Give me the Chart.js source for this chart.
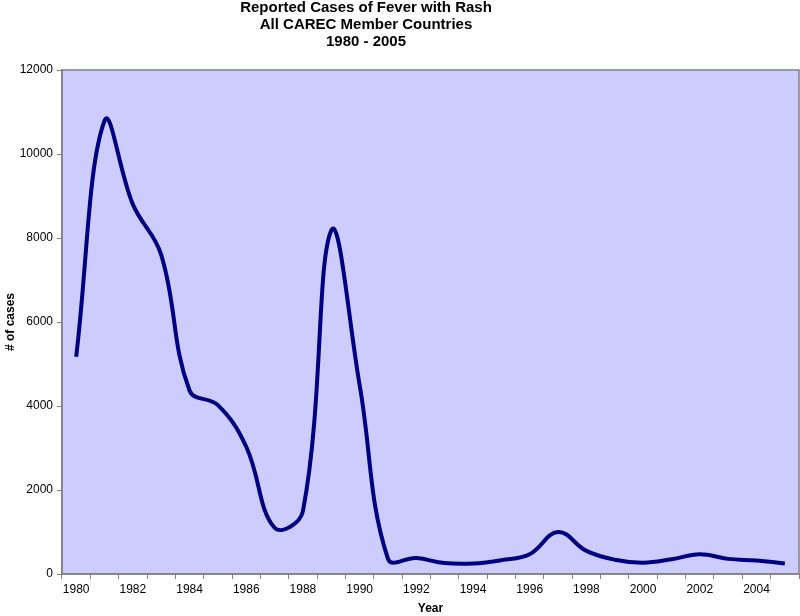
<!DOCTYPE html>
<html>
<head>
<meta charset="utf-8">
<script src="https://cdn.jsdelivr.net/npm/chart.js@4/dist/chart.umd.min.js"></script>
<style>
  html, body { margin: 0; padding: 0; background: #fff; }
  #wrap { width: 800px; height: 616px; }
</style>
</head>
<body>
<div id="wrap"><canvas id="chart"></canvas></div>
<script>
// data
const years = ['1980', '1981', '1982', '1983', '1984', '1985', '1986', '1987', '1988',
    '1989', '1990', '1991', '1992', '1993', '1994', '1995', '1996', '1997', '1998',
    '1999', '2000', '2001', '2002', '2003', '2004', '2005'];
const cases = [5170, 10790, 8800, 7600, 4370, 4020, 3030, 1100, 1500,
    8180, 4500, 360, 380, 260, 250, 330, 470, 1000, 550,
    340, 270, 350, 470, 360, 320, 250];
const yTicks = [0, 2000, 4000, 6000, 8000, 10000, 12000];
const titleLines = ['Reported Cases of Fever with Rash', 'All CAREC Member Countries', '1980 - 2005'];

document.addEventListener('DOMContentLoaded', () => {
    const ctx = document.getElementById('chart').getContext('2d');
    const font = "Arial, 'Liberation Sans', sans-serif";

    // lavender plot area with grey frame
    const plotArea = {
        id: 'plotArea',
        beforeDraw(chart) {
            const a = chart.chartArea;
            const c = chart.ctx;
            c.save();
            c.fillStyle = '#ccccff';
            c.fillRect(a.left, a.top, a.right - a.left, a.bottom - a.top);
            c.restore();
        },
        afterDatasetsDraw(chart) {
            const a = chart.chartArea;
            const c = chart.ctx;
            c.save();
            c.strokeStyle = '#808080';
            c.lineWidth = 1.5;
            c.strokeRect(a.left, a.top, a.right - a.left, a.bottom - a.top);
            c.restore();
        }
    };

    // the title sits a bit left of the page centre, as in the original
    const titleBlock = {
        id: 'titleBlock',
        afterDraw(chart) {
            const c = chart.ctx;
            const cx = chart.width * 0.4575;
            c.save();
            c.fillStyle = '#000';
            c.font = 'bold 15px ' + font;
            c.textAlign = 'center';
            c.textBaseline = 'middle';
            titleLines.forEach((t, i) => c.fillText(t, cx, 8 + i * 17));
            c.restore();
        }
    };

    new Chart(ctx, {
        type: 'line',
        data: {
            labels: years,
            datasets: [{
                label: 'Cases',
                data: cases,
                borderColor: '#000080',
                borderWidth: 4,
                pointRadius: 0,
                tension: 0.4,
                fill: false
            }]
        },
        options: {
            responsive: true,
            maintainAspectRatio: false,
            animation: false,
            layout: { padding: { top: 70, right: 1, left: 0, bottom: 0 } },
            plugins: {
                legend: { display: false },
                tooltip: { enabled: false },
                title: { display: false }
            },
            scales: {
                x: {
                    type: 'category',
                    offset: true,
                    afterFit: s => { s.height = 42; },
                    grid: {
                        offset: true,
                        drawOnChartArea: false,
                        drawTicks: true,
                        tickLength: 5,
                        color: '#808080'
                    },
                    border: { color: '#808080', width: 1.5 },
                    ticks: {
                        autoSkip: false,
                        maxRotation: 0,
                        padding: 3,
                        color: '#000',
                        font: { family: font, size: 12 },
                        callback: function (v, i) { return i % 2 === 0 ? this.getLabelForValue(v) : ''; }
                    },
                    title: {
                        display: true,
                        text: 'Year',
                        color: '#000',
                        font: { family: font, size: 12, weight: 'bold' },
                        padding: { top: 5, bottom: 0 }
                    }
                },
                y: {
                    min: yTicks[0],
                    max: yTicks[yTicks.length - 1],
                    afterFit: s => { s.width = 62; },
                    afterBuildTicks: s => { s.ticks = yTicks.map(v => ({ value: v })); },
                    grid: {
                        drawOnChartArea: false,
                        drawTicks: true,
                        tickLength: 5,
                        color: '#808080'
                    },
                    border: { color: '#808080', width: 1.5 },
                    ticks: {
                        padding: 4,
                        color: '#000',
                        font: { family: font, size: 12 },
                        callback: v => String(v)
                    },
                    title: {
                        display: true,
                        text: '# of cases',
                        color: '#000',
                        font: { family: font, size: 12, weight: 'bold' },
                        padding: { top: 3, bottom: 0 }
                    }
                }
            }
        },
        plugins: [plotArea, titleBlock]
    });
});
</script>
</body>
</html>
